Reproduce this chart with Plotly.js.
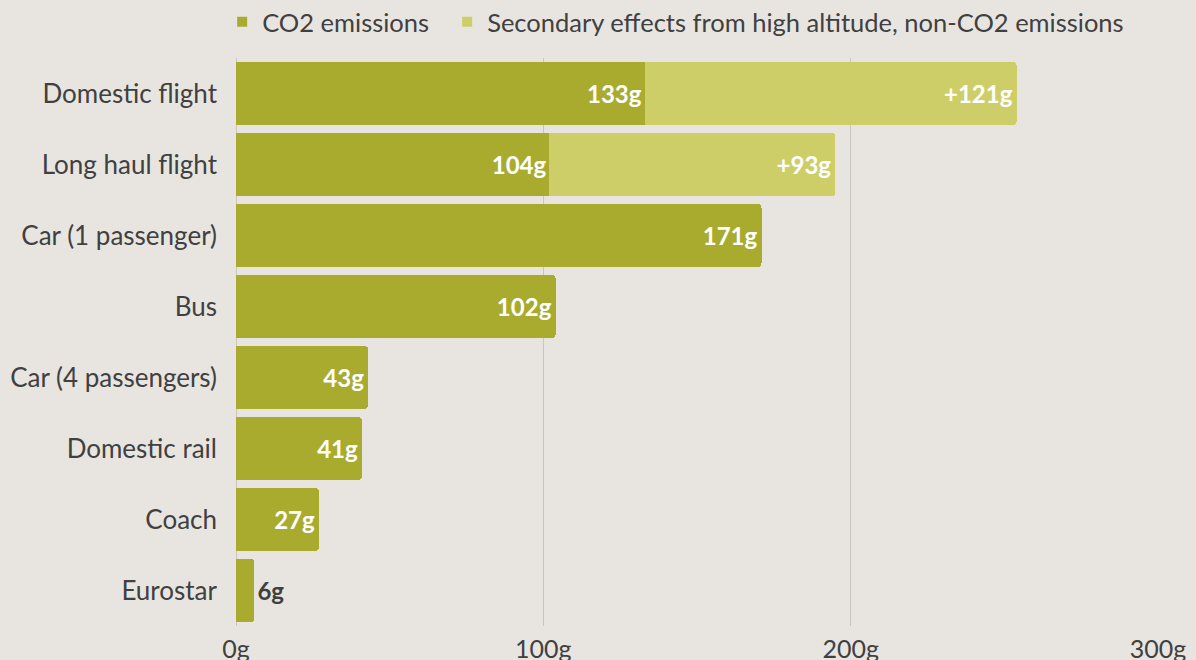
<!DOCTYPE html>
<html>
<head>
<meta charset="utf-8">
<script src="https://cdn.plot.ly/plotly-3.0.1.min.js"></script>
<style>
  html, body { margin: 0; padding: 0; background: #e8e5e0; }
  #chart { width: 1196px; height: 660px; }
</style>
</head>
<body>
<div id="chart"></div>
<script>
const categories = ["Domestic flight", "Long haul flight", "Car (1 passenger)", "Bus",
  "Car (4 passengers)", "Domestic rail", "Coach", "Eurostar"];
// bar lengths as drawn in the picture
const co2Values = [133, 102, 171, 104, 43, 41, 27, 6];
// value labels as printed in the picture
const co2Labels = ["133g", "104g", "171g", "102g", "43g", "41g", "27g", "6g"];
const secondaryValues = [121, 93, null, null, null, null, null, null];
const secondaryLabels = ["+121g", "+93g", "", "", "", "", "", ""];
const xTickValues = [0, 100, 200, 300];
const xTickLabels = ["0g", "100g", "200g", "300g"];
const seriesNames = ["CO2 emissions", "Secondary effects from high altitude, non-CO2 emissions"];
const seriesColors = ["#a9ab2f", "#cdce67"];

const FONT = "Lato, 'Open Sans', sans-serif";
const TEXT = "#404040";

const co2Pos = co2Values.map(v => v < 15 ? "outside" : "inside");
const labelFont = { color: "#ffffff", size: 24, family: FONT, weight: 700 };

const traces = [
  {
    type: "bar", orientation: "h", name: seriesNames[0], showlegend: false,
    y: categories, x: co2Values,
    marker: { color: seriesColors[0] },
    text: co2Labels, textposition: co2Pos, insidetextanchor: "end",
    textangle: 0, constraintext: "none", cliponaxis: false,
    insidetextfont: labelFont,
    outsidetextfont: { color: TEXT, size: 24, family: FONT, weight: 700 },
    hoverinfo: "x+y"
  },
  {
    type: "bar", orientation: "h", name: seriesNames[1], showlegend: false,
    y: categories, x: secondaryValues,
    marker: { color: seriesColors[1] },
    text: secondaryLabels, textposition: "inside", insidetextanchor: "end",
    textangle: 0, constraintext: "none",
    insidetextfont: labelFont,
    hoverinfo: "x+y"
  },
  // legend-only entries with square swatches
  {
    type: "scatter", mode: "markers", name: seriesNames[0], legend: "legend",
    x: [null], y: [null], showlegend: true,
    marker: { symbol: "square", size: 10, color: seriesColors[0] }
  },
  {
    type: "scatter", mode: "markers", name: seriesNames[1], legend: "legend2",
    x: [null], y: [null], showlegend: true,
    marker: { symbol: "square", size: 10, color: seriesColors[1] }
  }
];

const legendBase = {
  orientation: "h", xanchor: "left", y: 1.063, yanchor: "middle",
  font: { size: 25.5, color: TEXT, family: FONT },
  bgcolor: "rgba(0,0,0,0)", itemwidth: 30
};

const layout = {
  width: 1196, height: 660,
  paper_bgcolor: "#e8e5e0", plot_bgcolor: "#e8e5e0",
  margin: { l: 236, r: 38, t: 58, b: 34, pad: 0, autoexpand: false },
  barmode: "stack", bargap: 0.11, barcornerradius: 4,
  font: { family: FONT, color: TEXT, size: 25 },
  showlegend: true,
  legend: Object.assign({}, legendBase, { x: -0.015 }),
  legend2: Object.assign({}, legendBase, { x: 0.229 }),
  xaxis: {
    range: [0, 300], tickvals: xTickValues, ticktext: xTickLabels,
    showgrid: true, gridcolor: "#c9c5c0", gridwidth: 1,
    zeroline: true, zerolinecolor: "#c9c5c0", zerolinewidth: 1,
    showline: false, ticks: "", ticklabelstandoff: 6,
    tickfont: { size: 25, color: TEXT, family: FONT },
    fixedrange: true
  },
  yaxis: {
    autorange: "reversed", type: "category",
    showgrid: false, zeroline: false, showline: false, ticks: "",
    ticklabelstandoff: 18,
    tickfont: { size: 26, color: TEXT, family: FONT },
    fixedrange: true
  }
};

Plotly.newPlot("chart", traces, layout, { displayModeBar: false, staticPlot: true });
</script>
</body>
</html>
